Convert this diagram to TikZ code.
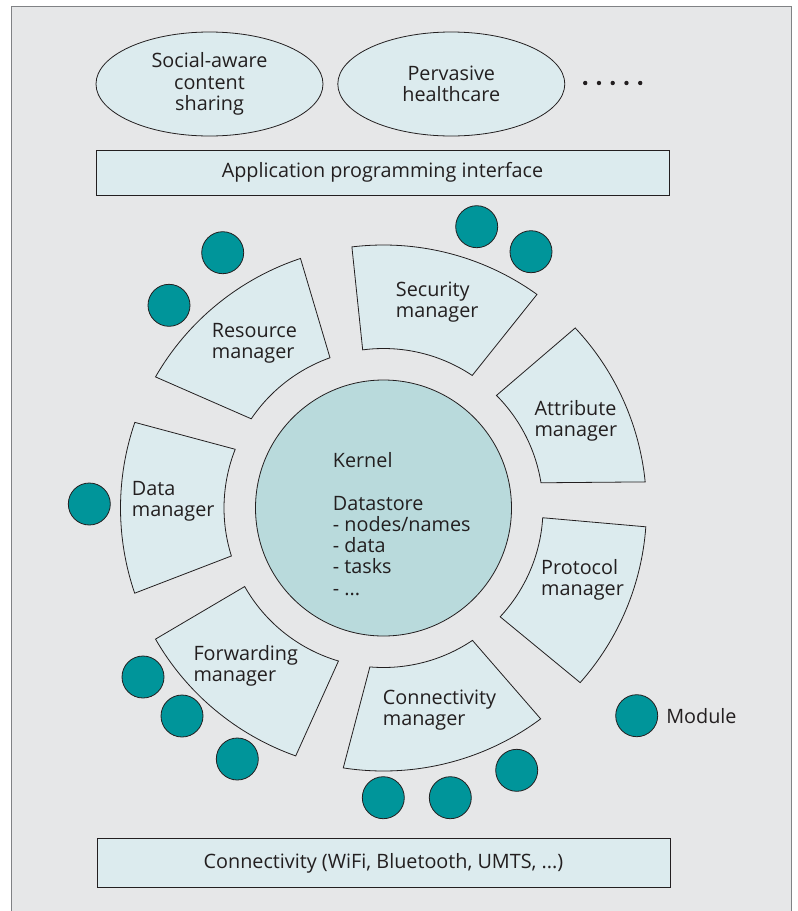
\documentclass[tikz,border=0pt]{standalone}
\usepackage{fontspec}
\setmainfont{Open Sans}
\usetikzlibrary{shapes.geometric,positioning,calc}
\definecolor{bgcol}{HTML}{E6E7E8}
\definecolor{framecol}{HTML}{808285}
\definecolor{linecol}{HTML}{231F20}
\definecolor{sectorcol}{HTML}{DCEBEE}
\definecolor{kernelcol}{HTML}{B9DADC}
\definecolor{modulecol}{HTML}{00959A}
\newcommand{\outerrad}{263}
\newcommand{\innerrad}{159.5}
% outer start, outer end, inner start, inner end
\newcommand{\mgrsector}[4]{%
  \draw[sector] ($(kernel.center)+(#1:\outerrad)$)
    arc[start angle=#1, end angle=#2, radius=\outerrad]
    -- ($(kernel.center)+(#4:\innerrad)$)
    arc[start angle=#4, end angle=#3, radius=\innerrad] -- cycle;}
\tikzset{
  txt/.style = {
    inner sep=0pt,
    align=left,
    text=linecol,
    font=\fontsize{19.8}{21.3}\selectfont,
    },
  layer box/.style = {
    txt,
    shape=rectangle,
    draw=linecol,
    fill=sectorcol,
    line width=0.8pt,
    minimum width=573,
    align=center,
    },
  app/.style = {
    txt,
    ellipse,
    draw=linecol,
    fill=sectorcol,
    line width=0.8pt,
    minimum width=227,
    minimum height=104,
    align=center,
    },
  sector/.style = {draw=linecol, fill=sectorcol, line width=0.8pt},
  kernel/.style = {circle, draw=linecol, fill=kernelcol, line width=0.8pt,
    minimum size=256, inner sep=0pt},
  module/.style = {circle, draw=linecol, fill=modulecol, line width=0.8pt,
    minimum size=42, inner sep=0pt},
  mgr/.style = {txt, anchor=west},
}
\begin{document}
\begin{tikzpicture}[x=1pt,y=1pt]
    \useasboundingbox (0,0) rectangle (798,-911);
    \draw[framecol, fill=bgcol, line width=0.8pt] (11,-6) rectangle (791,-930);

    % applications
    \node[app] (social) at (209.5,-84) {Social-aware\\content\\sharing};
    \node[app, right=14 of social] (health) {Pervasive\\healthcare};
    \foreach \i in {0,...,4}
        \fill[linecol] ($(health.east)+(20+\i*13.75,1)$) circle (2.2);

    \node[layer box, minimum height=45] (api) at (382.5,-172.5) {Application programming interface};

    % kernel
    \node[kernel] (kernel) at (383.5,-508) {};
    \node[txt, anchor=west] (kerneltext) at (332.7,-524)
        {Kernel\\\mbox{}\\Datastore\\- nodes/names\\- data\\- tasks\\- ...};

    % managers
    \mgrsector{54.3}{96.9}{56.2}{97.5}
    \mgrsector{5.7}{43.2}{9.1}{44.9}
    \mgrsector{108.4}{150.1}{109.6}{146}
    \mgrsector{161}{198.9}{158.4}{197.5}
    \mgrsector{209.9}{250.5}{209.5}{253.6}
    \mgrsector{261.2}{306.7}{265.1}{303.9}
    \mgrsector{318.4}{355.9}{317}{356.5}

    \node[mgr] (secmgr) at (395.7,-302) {Security\\manager};
    \node[mgr] (attmgr) at (534.3,-421) {Attribute\\manager};
    \node[mgr] (resmgr) at (211.7,-343) {Resource\\manager};
    \node[mgr] (datmgr) at (131.7,-501) {Data\\manager};
    \node[mgr] (fwdmgr) at (193.3,-666) {Forwarding\\manager};
    \node[mgr] (conmgr) at (382.7,-710) {Connectivity\\manager};
    \node[mgr] (promgr) at (541,-580) {Protocol\\manager};

    % modules
    \node[module] (res1) at (222.7,-252.7) {};
    \node[module] (res2) at (169,-305.3) {};
    \node[module] (sec1) at (476.7,-226.7) {};
    \node[module] (sec2) at (531,-251.7) {};
    \node[module] (dat1) at (89.3,-504) {};
    \node[module] (fwd1) at (143,-677) {};
    \node[module] (fwd2) at (182,-716) {};
    \node[module] (fwd3) at (237.3,-759) {};
    \node[module] (con1) at (383.3,-797.7) {};
    \node[module] (con2) at (450.3,-797.7) {};
    \node[module] (con3) at (516.7,-770.3) {};

    % legend
    \node[module] (legend) at (636.7,-715.7) {};
    \node[txt, right=8 of legend] (legendtext) {Module};

    \node[layer box, minimum height=49] (conn) at (383.5,-863) {Connectivity (WiFi, Bluetooth, UMTS, ...)};
\end{tikzpicture}
\end{document}
